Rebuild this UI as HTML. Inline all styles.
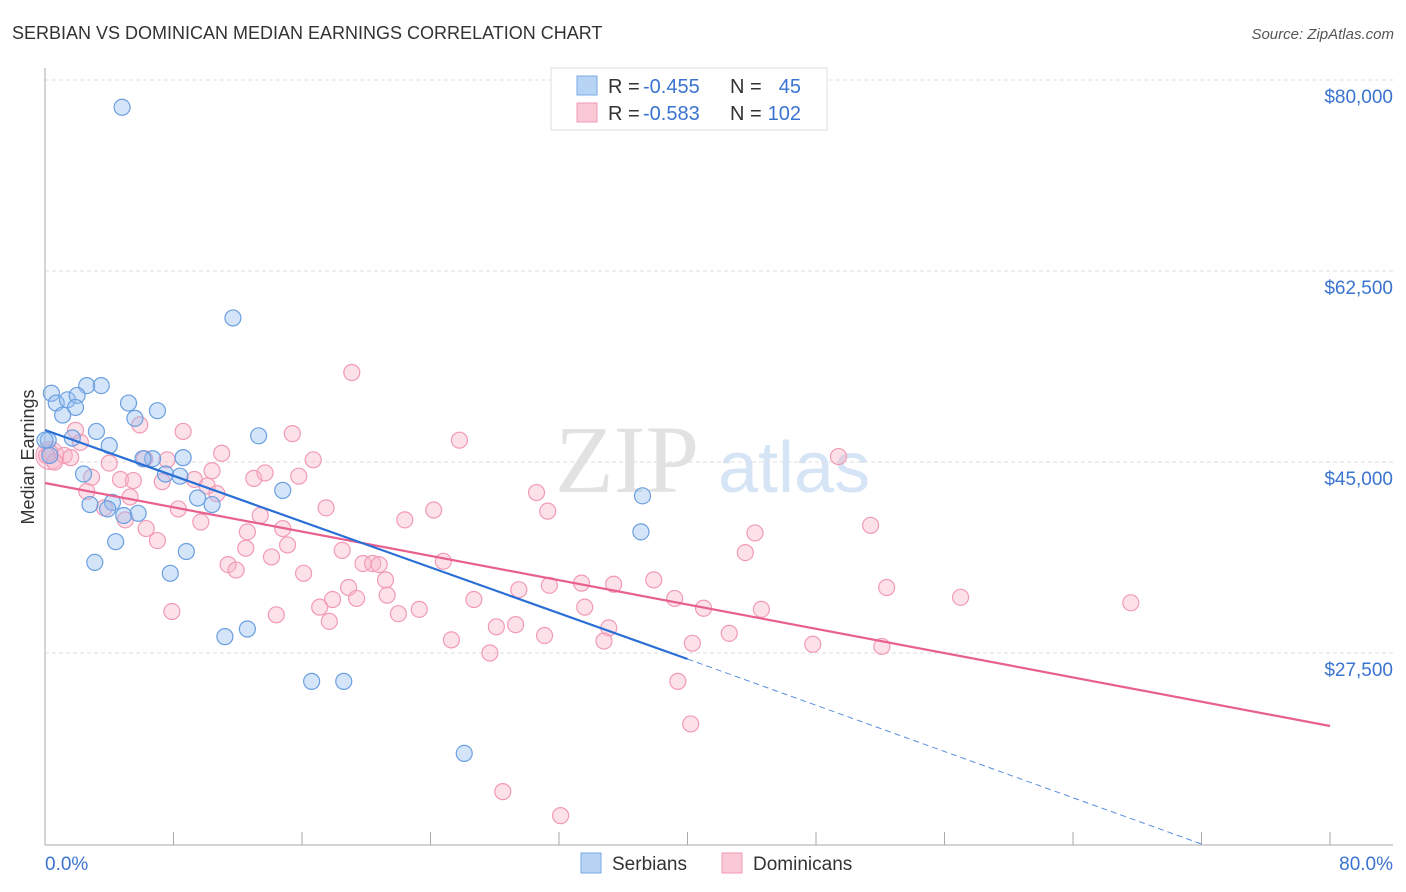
<!DOCTYPE html>
<html><head><meta charset="utf-8"><style>
body{margin:0;background:#fff;font-family:"Liberation Sans",sans-serif;}
svg{display:block}
</style></head><body>
<svg id="c" width="1406" height="892" xmlns="http://www.w3.org/2000/svg">
<text x="12" y="39" font-size="18" fill="#333">SERBIAN VS DOMINICAN MEDIAN EARNINGS CORRELATION CHART</text>
<text x="1394" y="39" font-size="15" fill="#555" font-style="italic" text-anchor="end">Source: ZipAtlas.com</text>
<g>
<text x="555" y="492" font-size="96" font-family="Liberation Serif,serif" fill="#e2e2e2">ZIP</text>
<text x="718" y="492" font-size="72" fill="#d6e5f6">atlas</text>
</g>
<text transform="translate(34,457) rotate(-90)" font-size="18" fill="#333" text-anchor="middle">Median Earnings</text>
<g id="grid"></g><g id="axes"></g><g id="marks"></g>
<g>
<rect x="551" y="68" width="276" height="62" fill="#fff" stroke="#ddd"/>
<rect x="577" y="76" width="20" height="19" fill="#b8d4f5" stroke="#7aaae6"/>
<rect x="577" y="103" width="20" height="19" fill="#fbc8d6" stroke="#f29ab4"/>
<text x="608" y="93" font-size="20" fill="#333">R =</text>
<text x="643" y="93" font-size="20" fill="#3a74d0">-0.455</text>
<text x="730" y="93" font-size="20" fill="#333">N =</text>
<text x="801" y="93" font-size="20" fill="#3a74d0" text-anchor="end">45</text>
<text x="608" y="120" font-size="20" fill="#333">R =</text>
<text x="643" y="120" font-size="20" fill="#3a74d0">-0.583</text>
<text x="730" y="120" font-size="20" fill="#333">N =</text>
<text x="801" y="120" font-size="20" fill="#3a74d0" text-anchor="end">102</text>
</g>
<g>
<rect x="581" y="853" width="20" height="20" fill="#b8d4f5" stroke="#7aaae6"/>
<text x="612" y="870" font-size="19" fill="#333">Serbians</text>
<rect x="722" y="853" width="20" height="20" fill="#fbc8d6" stroke="#f29ab4"/>
<text x="753" y="870" font-size="19" fill="#333">Dominicans</text>
</g>
<text x="45" y="870" font-size="19" fill="#3a74d0">0.0%</text>
<text x="1393" y="870" font-size="19" fill="#3a74d0" text-anchor="end">80.0%</text>
</svg>
<script>
const yTicks=[80000,62500,45000,27500];
const yTickLabels=["$80,000","$62,500","$45,000","$27,500"];
const serbX=[4.8,11.7,0.4,2.6,3.5,0.7,1.4,2.0,1.9,1.1,5.2,7.0,5.6,1.7,3.2,4.0,13.3,0.2,6.7,6.1,8.6,7.5,8.4,2.4,14.8,9.5,10.4,2.8,4.2,3.9,5.8,4.9,4.4,8.8,3.1,7.8,37.2,37.1,11.2,12.6,16.6,18.6,26.1,0.3,0.0];
const serbY=[77.5,58.2,51.3,52.0,52.0,50.4,50.7,51.1,50.0,49.3,50.4,49.7,49.0,47.2,47.8,46.5,47.4,47.0,45.3,45.3,45.4,43.9,43.7,43.9,42.4,41.7,41.1,41.1,41.3,40.7,40.3,40.1,37.7,36.8,35.8,34.8,41.9,38.6,29.0,29.7,24.9,24.9,18.3,45.6,47.0];
const domX=[19.1,25.8,15.4,49.4,11.0,8.6,5.9,1.9,0.3,1.2,1.6,4.0,7.6,10.4,13.0,13.7,15.8,16.7,2.9,4.7,5.5,7.3,9.3,10.1,10.7,2.6,5.3,3.7,8.3,9.7,5.0,6.3,13.4,17.5,22.4,24.2,30.6,31.3,12.6,14.8,7.0,12.5,15.1,18.5,14.1,11.4,11.9,16.1,19.8,20.4,20.8,24.8,21.2,18.9,19.4,17.9,21.3,17.1,14.4,17.7,22.0,23.3,26.7,29.5,31.4,33.4,35.4,37.9,39.2,41.0,44.6,33.6,7.9,25.3,28.1,29.3,31.1,35.1,34.8,40.3,42.6,47.8,52.1,27.7,44.2,43.6,51.4,52.4,57.0,67.6,39.4,40.2,28.5,32.1,0.1,0.6,2.2,6.2];
const domY=[53.2,47.0,47.6,45.5,45.8,47.8,48.4,47.9,45.9,45.6,45.4,44.9,45.2,44.2,43.5,44.0,43.7,45.2,43.6,43.4,43.3,43.2,43.4,42.8,42.1,42.3,41.8,40.8,40.7,39.5,39.7,38.9,40.1,40.8,39.7,40.6,42.2,40.5,38.6,38.9,37.8,37.1,37.4,36.9,36.3,35.6,35.1,34.8,35.7,35.7,35.6,35.9,34.2,33.5,32.5,32.4,32.8,31.7,31.0,30.4,31.1,31.5,32.4,33.3,33.7,33.9,33.8,34.2,32.5,31.6,31.5,31.7,31.3,28.7,29.9,30.1,29.1,29.8,28.6,28.4,29.3,28.3,28.1,27.5,38.5,36.7,39.2,33.5,32.6,32.1,24.9,21.0,14.8,12.6,45.6,45.0,46.8,45.3];
const serbTrend=[[0,47932],[40,26950]];
const serbTrendDash=[[40,26950],[72,10000]];
const domTrend=[[0,43076],[80,20812]];
const NS="http://www.w3.org/2000/svg";
const X=p=>45+p*1285/80;
const Y=v=>80+(80000-v)*191/17500;
function mk(t,a,parent){const e=document.createElementNS(NS,t);for(const k in a)e.setAttribute(k,a[k]);document.getElementById(parent).appendChild(e);return e;}
yTicks.forEach((v,i)=>{
 const l=mk('line',{x1:45,x2:1393,y1:Y(v),y2:Y(v),stroke:'#ddd','stroke-dasharray':'4,3'},'grid');
 
 
 const t=mk('text',{x:1393,y:Y(v)+23,'font-size':19,fill:'#3a74d0','text-anchor':'end'},'axes');
 t.textContent=yTickLabels[i];
 
 
});
const ax=mk('line',{x1:45,x2:45,y1:68,y2:845,stroke:'#aaa'},'axes');


const bx=mk('line',{x1:45,x2:1393,y1:845,y2:845,stroke:'#aaa'},'axes');


for(let i=1;i<=10;i++){
 const tk=mk('line',{x1:X(i*8),x2:X(i*8),y1:832,y2:845,stroke:'#aaa'},'axes');
 
 
}
const bc=mk('circle',{cx:X(0.3),cy:Y(45600),r:14,fill:'rgba(248,180,200,0.45)',stroke:'#f29ab4'},'marks');


domX.forEach((x,i)=>{
 const c=mk('circle',{cx:X(x),cy:Y(domY[i]*1000),r:8,fill:'rgba(248,180,200,0.4)',stroke:'#f29ab4','stroke-width':1.2},'marks');
 
 
});
serbX.forEach((x,i)=>{
 const c=mk('circle',{cx:X(x),cy:Y(serbY[i]*1000),r:8,fill:'rgba(150,190,240,0.4)',stroke:'#6a9fe0','stroke-width':1.2},'marks');
 
 
});
const dl=mk('line',{x1:X(domTrend[0][0]),y1:Y(domTrend[0][1]),x2:X(domTrend[1][0]),y2:Y(domTrend[1][1]),stroke:'#e8608e','stroke-width':2.2},'marks');


const sl=mk('line',{x1:X(serbTrend[0][0]),y1:Y(serbTrend[0][1]),x2:X(serbTrend[1][0]),y2:Y(serbTrend[1][1]),stroke:'#2a6fd6','stroke-width':2.2},'marks');


const sd=mk('line',{x1:X(serbTrendDash[0][0]),y1:Y(serbTrendDash[0][1]),x2:X(serbTrendDash[1][0]),y2:Y(serbTrendDash[1][1]),stroke:'#5a8fe0','stroke-width':1,'stroke-dasharray':'6,4'},'marks');


</script>
</body></html>
